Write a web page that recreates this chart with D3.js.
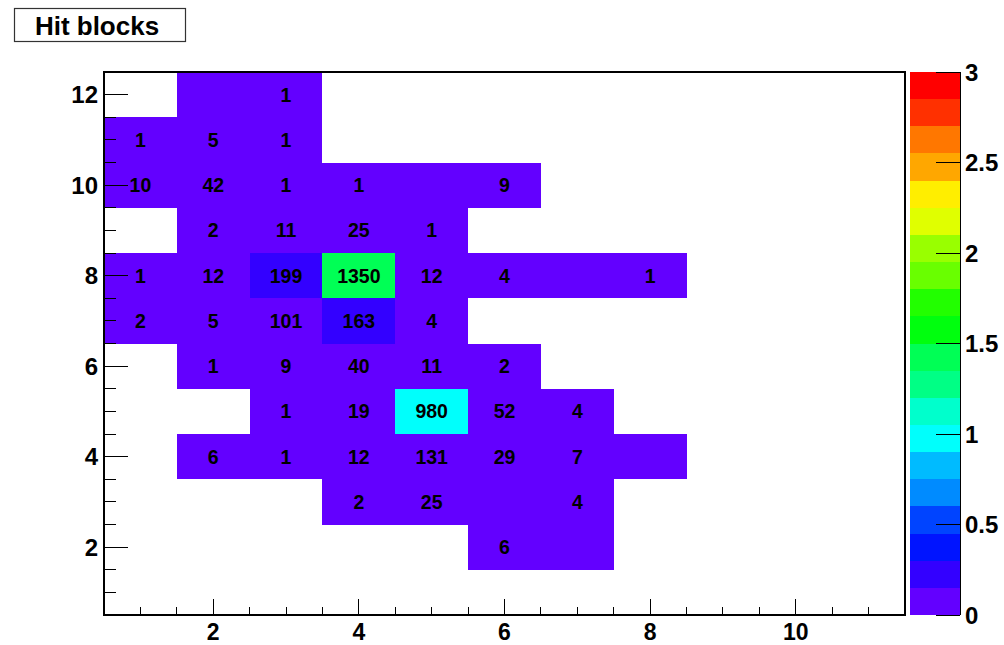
<!DOCTYPE html>
<html>
<head>
<meta charset="utf-8">
<script src="https://cdn.jsdelivr.net/npm/d3@7"></script>
<style>
  body { margin: 0; background: #fff; }
  svg text { font-family: "Liberation Sans", Arial, Helvetica, sans-serif; font-weight: bold; }
</style>
</head>
<body>
<div id="chart"></div>
<script>
// bins of the 2D histogram
const xBins = [1, 2, 3, 4, 5, 6, 7, 8, 9, 10, 11];
const yBins = [12, 11, 10, 9, 8, 7, 6, 5, 4, 3, 2, 1];
// counts per bin, rows follow yBins, columns follow xBins
// null = empty bin, 0 = coloured bin without a number
const counts = [
  [null, 0, 1, null, null, null, null, null, null, null, null],
  [1, 5, 1, null, null, null, null, null, null, null, null],
  [10, 42, 1, 1, 0, 9, null, null, null, null, null],
  [null, 2, 11, 25, 1, null, null, null, null, null, null],
  [1, 12, 199, 1350, 12, 4, 0, 1, null, null, null],
  [2, 5, 101, 163, 4, null, null, null, null, null, null],
  [null, 1, 9, 40, 11, 2, null, null, null, null, null],
  [null, null, 1, 19, 980, 52, 4, null, null, null, null],
  [null, 6, 1, 12, 131, 29, 7, 0, null, null, null],
  [null, null, null, 2, 25, 0, 4, null, null, null, null],
  [null, null, null, null, null, 6, 0, null, null, null, null],
  [null, null, null, null, null, null, null, null, null, null, null]
];
const zScaleFactor = 1000;           // colour axis is counts / 1000
const xTicks = [2, 4, 6, 8, 10];
const yTicks = [2, 4, 6, 8, 10, 12];
const zTicks = [0, 0.5, 1, 1.5, 2, 2.5, 3];
const nLevels = 20;
const title = "Hit blocks";

const width = 1004, height = 645;
const frame = {left: 104, right: 905, top: 72, bottom: 615};

const svg = d3.select('#chart').append('svg')
  .attr('width', width).attr('height', height);

const x = d3.scaleLinear().domain([0.5, 11.5]).range([frame.left, frame.right]);
const y = d3.scaleLinear().domain([0.5, 12.5]).range([frame.bottom, frame.top]);
const z = d3.scaleLinear().domain([0, 3]).range([frame.bottom, frame.top]);

// ROOT "pretty" palette: 50 hues from violet to red, picked per contour level
const palette = d3.range(50).map(i => d3.hsl(280 - (i + 1) * 5.6, 1, 0.5).toString());
const levelColor = k => palette[Math.floor((k + 0.99) * 50 / nLevels)];
const dz = 3 / nLevels;
function cellColor(c) {
  const k = Math.min(nLevels - 1, Math.max(0, Math.floor(c / zScaleFactor / dz + 1e-9)));
  return levelColor(k);
}

// cells
const cells = [];
counts.forEach((row, r) => row.forEach((c, i) => {
  if (c !== null) cells.push({bx: xBins[i], by: yBins[r], c: c});
}));

const plot = svg.append('g');
plot.selectAll('rect.cell')
  .data(cells)
  .enter()
  .append('rect')
    .attr('class', 'cell')
    .attr('x', d => x(d.bx - 0.5))
    .attr('y', d => y(d.by + 0.5))
    .attr('width', d => x(d.bx + 0.5) - x(d.bx - 0.5))
    .attr('height', d => y(d.by - 0.5) - y(d.by + 0.5))
    .attr('shape-rendering', 'crispEdges')
    .style('fill', d => cellColor(d.c));

plot.selectAll('text.cell')
  .data(cells.filter(d => d.c > 0))
  .enter()
  .append('text')
    .attr('class', 'cell')
    .attr('x', d => x(d.bx))
    .attr('y', d => y(d.by))
    .attr('dy', '0.36em')
    .attr('text-anchor', 'middle')
    .style('font-size', '19.5px')
    .text(d => d.c);

// frame
svg.append('rect')
  .attr('x', frame.left).attr('y', frame.top)
  .attr('width', frame.right - frame.left).attr('height', frame.bottom - frame.top)
  .attr('fill', 'none').attr('stroke', '#000').attr('stroke-width', 1.2)
  .attr('shape-rendering', 'crispEdges');

// x axis ticks (major every 2, minor every 0.5)
const xMinor = d3.range(1, 11.5, 0.5);
svg.append('g').selectAll('line')
  .data(xMinor)
  .enter()
  .append('line')
    .attr('x1', d => x(d)).attr('x2', d => x(d))
    .attr('y1', frame.bottom)
    .attr('y2', d => frame.bottom - (d % 2 === 0 ? 16 : 8))
    .attr('stroke', '#000').attr('shape-rendering', 'crispEdges');
svg.append('g').selectAll('text')
  .data(xTicks)
  .enter()
  .append('text')
    .attr('x', d => x(d))
    .attr('y', 639.5)
    .attr('text-anchor', 'middle')
    .style('font-size', '23px')
    .text(d => d);

// y axis ticks
const yMinor = d3.range(1, 12.5, 0.5);
svg.append('g').selectAll('line')
  .data(yMinor)
  .enter()
  .append('line')
    .attr('x1', frame.left)
    .attr('x2', d => frame.left + (d % 2 === 0 ? 24 : 12))
    .attr('y1', d => y(d)).attr('y2', d => y(d))
    .attr('stroke', '#000').attr('shape-rendering', 'crispEdges');
svg.append('g').selectAll('text')
  .data(yTicks)
  .enter()
  .append('text')
    .attr('x', 98)
    .attr('y', d => y(d))
    .attr('dy', '0.36em')
    .attr('text-anchor', 'end')
    .style('font-size', '24px')
    .text(d => d);

// colour bar
const bar = {left: 910, right: 960};
const levels = d3.range(nLevels);
svg.append('g').selectAll('rect')
  .data(levels)
  .enter()
  .append('rect')
    .attr('x', bar.left)
    .attr('y', k => z((k + 1) * dz))
    .attr('width', bar.right - bar.left)
    .attr('height', k => z(k * dz) - z((k + 1) * dz))
    .attr('shape-rendering', 'crispEdges')
    .style('fill', k => levelColor(k));

svg.append('line')
  .attr('x1', bar.right).attr('x2', bar.right)
  .attr('y1', frame.top).attr('y2', frame.bottom)
  .attr('stroke', '#000').attr('shape-rendering', 'crispEdges');
svg.append('g').selectAll('line')
  .data(zTicks)
  .enter()
  .append('line')
    .attr('x1', bar.right - 24).attr('x2', bar.right)
    .attr('y1', d => z(d)).attr('y2', d => z(d))
    .attr('stroke', '#000').attr('shape-rendering', 'crispEdges');
svg.append('g').selectAll('text')
  .data(zTicks)
  .enter()
  .append('text')
    .attr('x', 965)
    .attr('y', d => z(d))
    .attr('dy', '0.36em')
    .style('font-size', '24px')
    .text(d => d);

// title box
svg.append('rect')
  .attr('x', 14.5).attr('y', 8.5).attr('width', 171).attr('height', 33)
  .attr('fill', '#fff').attr('stroke', '#333').attr('stroke-width', 1.2);
svg.append('text')
  .attr('x', 97).attr('y', 35)
  .attr('text-anchor', 'middle')
  .style('font-size', '26px')
  .text(title);
</script>
</body>
</html>
